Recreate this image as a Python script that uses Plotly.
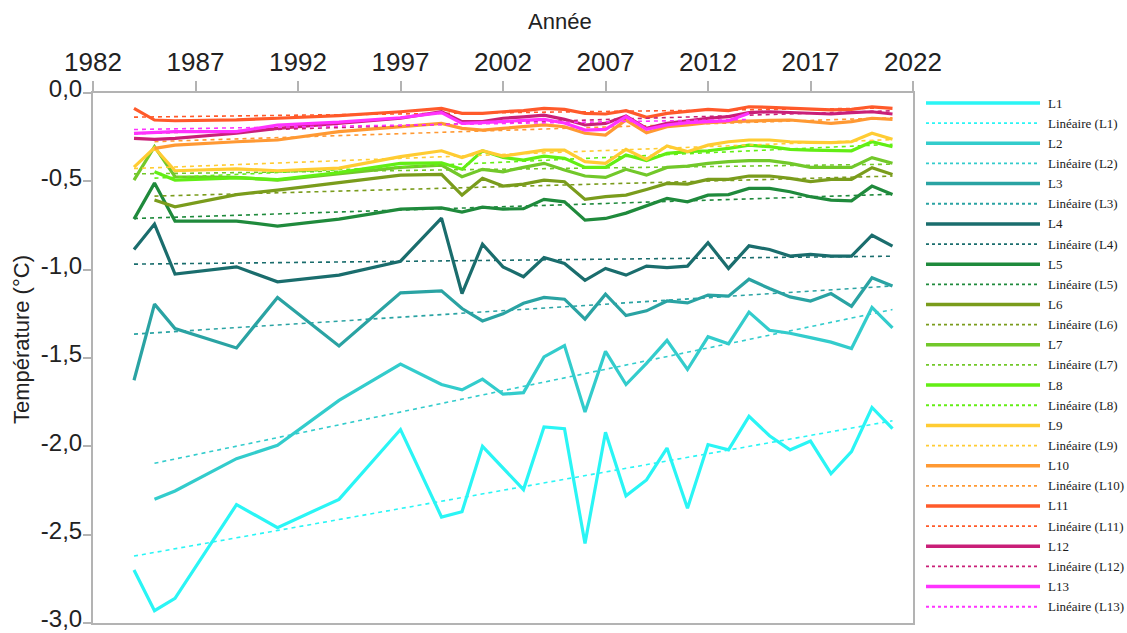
import numpy as np
import plotly.graph_objects as go

# Annual temperature series (°C) for levels L1..L13
years_L1 = [1984, 1985, 1986, 1989, 1991, 1994, 1997, 1999, 2000, 2001, 2003, 2004, 2005, 2006,
            2007, 2008, 2009, 2010, 2011, 2012, 2013, 2014, 2015, 2016, 2017, 2018, 2019, 2020, 2021]
temp_L1 = [-2.70, -2.93, -2.86, -2.33, -2.46, -2.30, -1.905, -2.40, -2.37, -2.00, -2.245, -1.89, -1.90, -2.55,
           -1.92, -2.28, -2.19, -2.01, -2.35, -1.99, -2.02, -1.83, -1.94, -2.02, -1.97, -2.155, -2.03, -1.78, -1.90]

years_L2 = [1985, 1986, 1989, 1991, 1994, 1997, 1999, 2000, 2001, 2002, 2003, 2004, 2005, 2006, 2007,
            2008, 2009, 2010, 2011, 2012, 2013, 2014, 2015, 2016, 2017, 2018, 2019, 2020, 2021]
temp_L2 = [-2.30, -2.253, -2.07, -1.994, -1.74, -1.535, -1.65, -1.68, -1.62, -1.705, -1.696, -1.494, -1.43,
           -1.806, -1.462, -1.65, -1.53, -1.40, -1.565, -1.38, -1.42, -1.24, -1.343, -1.36, -1.385, -1.41,
           -1.446, -1.214, -1.33]

years_full = [1984, 1985, 1986, 1989, 1991, 1994, 1997, 1999, 2000, 2001, 2002, 2003, 2004, 2005, 2006,
              2007, 2008, 2009, 2010, 2011, 2012, 2013, 2014, 2015, 2016, 2017, 2018, 2019, 2020, 2021]
years_from85 = years_full[1:]
years_L13 = [y for y in years_full if y <= 2014]

temp_L3 = [-1.626, -1.195, -1.333, -1.443, -1.157, -1.432, -1.131, -1.12, -1.22, -1.29, -1.25, -1.19, -1.157,
           -1.167, -1.28, -1.139, -1.26, -1.233, -1.177, -1.188, -1.144, -1.15, -1.054, -1.107, -1.154,
           -1.178, -1.135, -1.207, -1.046, -1.093]
temp_L4 = [-0.886, -0.742, -1.025, -0.984, -1.069, -1.031, -0.952, -0.708, -1.135, -0.856, -0.984, -1.04,
           -0.931, -0.965, -1.06, -0.993, -1.031, -0.98, -0.988, -0.98, -0.848, -0.993, -0.865, -0.886,
           -0.923, -0.914, -0.923, -0.923, -0.805, -0.867]
temp_L5 = [-0.714, -0.51, -0.725, -0.725, -0.753, -0.714, -0.657, -0.65, -0.674, -0.646, -0.657, -0.655,
           -0.602, -0.616, -0.72, -0.71, -0.68, -0.64, -0.597, -0.616, -0.578, -0.575, -0.54, -0.54,
           -0.559, -0.587, -0.606, -0.61, -0.527, -0.574]
temp_L6 = [-0.606, -0.644, -0.575, -0.55, -0.507, -0.465, -0.461, -0.578, -0.483, -0.527, -0.516, -0.493,
           -0.502, -0.602, -0.587, -0.578, -0.546, -0.512, -0.516, -0.489, -0.489, -0.47, -0.47, -0.483,
           -0.502, -0.489, -0.489, -0.423, -0.461]
temp_L7 = [-0.493, -0.304, -0.474, -0.478, -0.493, -0.459, -0.421, -0.408, -0.474, -0.432, -0.446, -0.421,
           -0.398, -0.436, -0.47, -0.478, -0.432, -0.465, -0.421, -0.414, -0.398, -0.389, -0.383, -0.383,
           -0.398, -0.421, -0.421, -0.421, -0.366, -0.398]
temp_L8 = [-0.446, -0.493, -0.48, -0.49, -0.45, -0.398, -0.395, -0.432, -0.327, -0.365, -0.38, -0.357,
           -0.37, -0.421, -0.421, -0.351, -0.383, -0.342, -0.332, -0.327, -0.313, -0.295, -0.304, -0.319,
           -0.323, -0.327, -0.327, -0.276, -0.304]
temp_L9 = [-0.42, -0.31, -0.44, -0.43, -0.44, -0.425, -0.36, -0.327, -0.365, -0.327, -0.357, -0.34, -0.323,
           -0.323, -0.389, -0.398, -0.319, -0.376, -0.30, -0.332, -0.295, -0.276, -0.266, -0.266, -0.276,
           -0.279, -0.281, -0.276, -0.228, -0.262]
temp_L10 = [-0.313, -0.295, -0.276, -0.266, -0.219, -0.191, -0.172, -0.20, -0.21, -0.20, -0.19, -0.181,
            -0.191, -0.228, -0.238, -0.153, -0.225, -0.191, -0.181, -0.168, -0.162, -0.157, -0.155, -0.153,
            -0.162, -0.172, -0.162, -0.143, -0.149]
temp_L11 = [-0.087, -0.153, -0.157, -0.152, -0.143, -0.128, -0.106, -0.087, -0.115, -0.115, -0.106, -0.10,
            -0.087, -0.093, -0.115, -0.119, -0.10, -0.138, -0.115, -0.106, -0.093, -0.10, -0.078, -0.081,
            -0.087, -0.093, -0.096, -0.093, -0.078, -0.087]
temp_L12 = [-0.257, -0.262, -0.257, -0.228, -0.20, -0.172, -0.143, -0.106, -0.162, -0.162, -0.143, -0.135,
            -0.125, -0.149, -0.181, -0.172, -0.13, -0.20, -0.172, -0.157, -0.143, -0.134, -0.111, -0.106,
            -0.111, -0.115, -0.119, -0.111, -0.106, -0.119]
temp_L13 = [-0.228, -0.225, -0.219, -0.219, -0.181, -0.165, -0.14, -0.111, -0.172, -0.168, -0.16, -0.155,
            -0.149, -0.17, -0.21, -0.206, -0.134, -0.206, -0.181, -0.168, -0.162, -0.157, -0.115]

series_names = ["L1", "L2", "L3", "L4", "L5", "L6", "L7", "L8", "L9", "L10", "L11", "L12", "L13"]
series_years = [years_L1, years_L2, years_full, years_full, years_full, years_from85, years_full,
                years_from85, years_full, years_from85, years_full, years_full, years_L13]
series_temps = [temp_L1, temp_L2, temp_L3, temp_L4, temp_L5, temp_L6, temp_L7, temp_L8, temp_L9,
                temp_L10, temp_L11, temp_L12, temp_L13]
series_colors = ["#2af5f5", "#33cccc", "#2aa3a3", "#1a6d6d", "#1f8a3c", "#7a9c1c", "#72c82a",
                 "#63ee14", "#ffcc33", "#ff9933", "#ff5a2a", "#c91f78", "#ff33ff"]

x_ticks = [1982, 1987, 1992, 1997, 2002, 2007, 2012, 2017, 2022]
y_ticks = [0.0, -0.5, -1.0, -1.5, -2.0, -2.5, -3.0]
y_ticktext = ["0,0", "-0,5", "-1,0", "-1,5", "-2,0", "-2,5", "-3,0"]

W, H = 1127, 633
L, R, T, B = 93, 214, 93, 10
PW, PH = W - L - R, H - T - B


def px_x(px):
    return (px - L) / PW


def px_y(py):
    return (H - B - py) / PH


fig = go.Figure()

for name, yrs, temps, col in zip(series_names, series_years, series_temps, series_colors):
    fig.add_trace(go.Scatter(x=yrs, y=temps, mode="lines", name=name,
                             line=dict(color=col, width=3.2), showlegend=False))
    slope, icpt = np.polyfit(yrs, temps, 1)
    xs = [yrs[0], yrs[-1]]
    fig.add_trace(go.Scatter(x=xs, y=[slope * v + icpt for v in xs], mode="lines",
                             name="Linéaire (" + name + ")",
                             line=dict(color=col, width=1.6, dash="4px,4px"), showlegend=False))

# Legend drawn beside the plot area
shapes = []
annotations = []
row_y0, row_step = 103, 20.15
for i, (name, col) in enumerate(zip(series_names, series_colors)):
    for k, (label, width, dash) in enumerate([(name, 3.5, "solid"),
                                              ("Linéaire (" + name + ")", 1.8, "dot")]):
        py = row_y0 + row_step * (2 * i + k)
        shapes.append(dict(type="line", xref="paper", yref="paper",
                           x0=px_x(926), x1=px_x(1040), y0=px_y(py), y1=px_y(py),
                           line=dict(color=col, width=width, dash=dash)))
        annotations.append(dict(xref="paper", yref="paper", x=px_x(1046), y=px_y(py),
                                text=label, showarrow=False, xanchor="left", yanchor="middle",
                                font=dict(family="Liberation Serif", size=13, color="#1a1a1a")))

annotations.append(dict(xref="paper", yref="paper", x=px_x(560), y=px_y(22), text="Année",
                        showarrow=False, xanchor="center", yanchor="middle",
                        font=dict(family="Liberation Sans", size=22, color="#222222")))
annotations.append(dict(xref="paper", yref="paper", x=px_x(21), y=px_y(340),
                        text="Température (°C)", textangle=-90, showarrow=False,
                        xanchor="center", yanchor="middle",
                        font=dict(family="Liberation Sans", size=22, color="#222222")))

fig.update_layout(
    width=W, height=H,
    margin=dict(l=L, r=R, t=T, b=B, pad=0, autoexpand=False),
    paper_bgcolor="white", plot_bgcolor="white",
    shapes=shapes, annotations=annotations,
    font=dict(family="Liberation Sans", color="#222222"),
)
fig.update_xaxes(range=[1982, 2022], side="top", tickvals=x_ticks, ticktext=[str(v) for v in x_ticks],
                 ticks="outside", ticklen=10, tickwidth=1.5, tickcolor="#b3b3b3", automargin=False,
                 showline=True, linecolor="#b3b3b3", linewidth=2, mirror=True,
                 showgrid=False, zeroline=False, tickfont=dict(size=26, color="#222222"))
fig.update_yaxes(range=[-3, 0], tickvals=y_ticks, ticktext=y_ticktext, automargin=False,
                 ticks="outside", ticklen=8, tickwidth=1.5, tickcolor="#b3b3b3",
                 ticklabeloverflow="allow", ticklabelstandoff=-4, ticklabelshift=-4,
                 showline=True, linecolor="#b3b3b3", linewidth=2, mirror=True,
                 showgrid=False, zeroline=False, tickfont=dict(size=24, color="#222222"))

fig.write_html("out.html")
